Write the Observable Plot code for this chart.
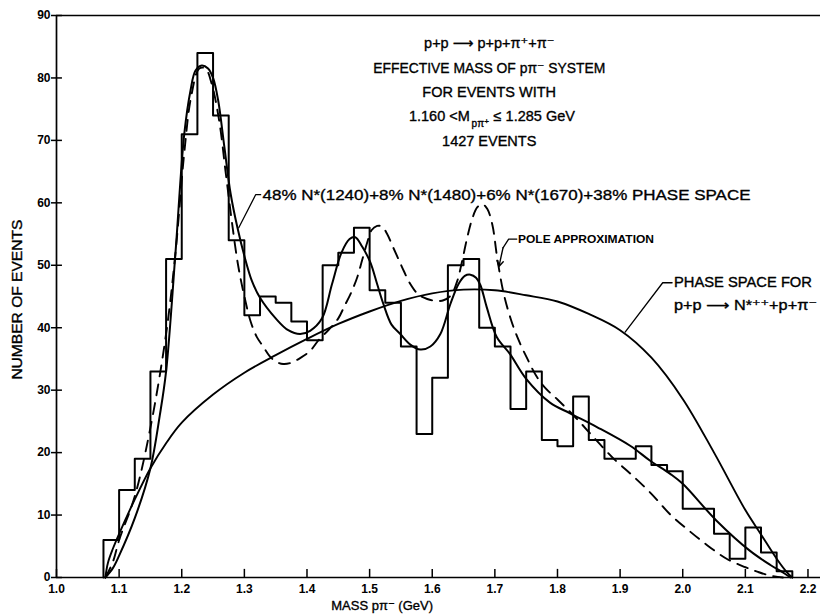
<!DOCTYPE html>
<html><head><meta charset="utf-8">
<script src="https://cdn.jsdelivr.net/npm/d3@7"></script>
<script src="https://cdn.jsdelivr.net/npm/@observablehq/plot@0.6"></script>
<style>
body{margin:0;background:#fff;}
#chart{width:828px;height:615px;}
</style></head><body><div id="chart"></div>
<script>
// ---- histogram (bin edges in GeV, counts per 25 MeV bin) ----
const binEdges = [1.075,1.1,1.125,1.15,1.175,1.2,1.225,1.25,1.275,1.3,1.325,1.35,1.375,1.4,1.425,1.45,1.475,1.5,1.525,1.55,1.575,1.6,1.625,1.65,1.675,1.7,1.725,1.75,1.775,1.8,1.825,1.85,1.875,1.9,1.925,1.95,1.975,2.0,2.025,2.05,2.075,2.1,2.125,2.15,2.175];
const binCounts = [6,14,19,33,51,71,84,74,54,42,45,44,41,38,50,52,56,46,44,37,23,32,50,51,40,37,27,33,22,21,29,22,19,19,21,18,17,11,11,7,3,8,4,1];

// ---- fit: 48% N*(1240)+8% N*(1480)+6% N*(1670)+38% phase space (solid) ----
const fitMass = [1.078,1.09,1.1,1.125,1.15,1.165,1.175,1.19,1.204,1.214,1.222,1.232,1.242,1.25,1.258,1.268,1.278,1.289,1.3,1.312,1.325,1.35,1.37,1.389,1.405,1.424,1.44,1.455,1.468,1.477,1.488,1.501,1.512,1.522,1.535,1.549,1.565,1.581,1.597,1.613,1.629,1.642,1.652,1.661,1.67,1.677,1.687,1.703,1.724,1.75,1.788,1.82,1.863,1.916,1.948,1.98,2.0,2.054,2.107,2.14,2.16,2.172];
const fitCount = [0,1.5,3.5,9.5,17.5,26,33,52,71,78,81.2,82,81.5,80,76.5,69,61.5,56,51.5,47.5,44.8,41.5,39.6,39,39.5,41.5,47,52,54.2,54.5,53,50.5,47,43.8,40.5,39,37.3,36.5,37,39,43.8,47,48.3,48.5,48,46.8,43.3,38.5,35.8,31.8,28,26.3,24.1,21.1,18.7,16.6,15,9.1,4.3,2,0.8,0];

// ---- pole approximation (dashed) ----
const poleMass = [1.078,1.09,1.1,1.125,1.15,1.175,1.19,1.204,1.215,1.228,1.238,1.248,1.26,1.27,1.28,1.29,1.3,1.31,1.32,1.33,1.34,1.35,1.362,1.375,1.39,1.405,1.42,1.435,1.45,1.46,1.47,1.48,1.488,1.496,1.503,1.512,1.52,1.528,1.537,1.546,1.555,1.565,1.578,1.592,1.605,1.618,1.63,1.64,1.648,1.656,1.664,1.672,1.68,1.688,1.696,1.704,1.714,1.726,1.738,1.752,1.766,1.78,1.8,1.83,1.86,1.89,1.92,1.95,1.98,2.01,2.04,2.07,2.1,2.12,2.14,2.16];
const poleCount = [0,2.5,6,13,24,39,52,68,77,81.5,81.5,79,73,65,57,50,45,41,38.5,37,35.5,34.6,34.2,34.4,35.2,36.3,38.2,39.7,41.5,43.5,45.5,48,50.8,53.6,55.6,56.3,56.2,55,53,51,49,47,45.3,44.6,44.3,44.4,45.2,47.5,50.8,54.5,57.5,59.3,59.8,59,56.5,51,45.5,41.2,38,35,32.3,30.4,28.5,25.5,22.2,19,16.3,13.4,10.1,7.5,5.1,3,1.65,0.9,0.3,0];

// ---- phase space for p+p -> N*++ + p + pi- ----
const psMass = [1.078,1.082,1.09,1.1,1.125,1.15,1.175,1.2,1.25,1.3,1.35,1.4,1.45,1.5,1.55,1.6,1.65,1.7,1.75,1.8,1.85,1.9,1.95,2.0,2.05,2.1,2.125,2.15,2.165,2.175];
const psCount = [0,2.3,4.6,7,12.5,17.5,21.5,24.8,29.3,32.8,35.6,38.2,40.6,42.6,44.3,45.5,46.1,46,45.2,44.2,42.2,39.6,35.2,28.6,20,10.8,6.9,3,1,0];

// ---- axes ----
const xTicks = [1.0,1.1,1.2,1.3,1.4,1.5,1.6,1.7,1.8,1.9,2.0,2.1,2.2];
const yTicks = [0,10,20,30,40,50,60,70,80,90];

const titleLines = ["p+p \u27f6 p+p+\u03c0\u207a+\u03c0\u207b", "EFFECTIVE MASS OF p\u03c0\u207b SYSTEM", "FOR EVENTS WITH", "", "1427 EVENTS"];
const fitLabel = "48% N*(1240)+8% N*(1480)+6% N*(1670)+38% PHASE SPACE";
const poleLabel = "POLE APPROXIMATION";
const psLabel = ["PHASE SPACE FOR", "p+p \u27f6 N*\u207a\u207a+p+\u03c0\u207b"];
const xLabel = "MASS p\u03c0\u207b (GeV)";
const yLabel = "NUMBER OF EVENTS";

// ---- build tables ----
const hist = [{x: binEdges[0], y: 0}]
  .concat(binCounts.map((c, i) => ({x: binEdges[i], y: c})))
  .concat([{x: binEdges[binEdges.length - 1], y: 0}]);
const fit = fitMass.map((m, i) => ({x: m, y: fitCount[i]}));
const pole = poleMass.map((m, i) => ({x: m, y: poleCount[i]}));
const ps = psMass.map((m, i) => ({x: m, y: psCount[i]}));

const FONT = "'Liberation Sans', Arial, Helvetica, 'DejaVu Sans', sans-serif";
const X0 = 1.0;
const ink = {fill: "#000", stroke: "#000", strokeWidth: 0.35};

const titleY = [85.5, 81.5, 77.7, 73.8, 69.8];
const titleData = titleLines.map((t, i) => ({x: 1.691, y: titleY[i], t})).filter(d => d.t);

const plot = Plot.plot({
  width: 828,
  height: 615,
  marginLeft: 56,
  marginRight: 8,
  marginTop: 15,
  marginBottom: 38,
  style: {fontFamily: FONT, fontSize: "12px", fontWeight: "bold", color: "#000", background: "#fff"},
  x: {domain: [1.0, 2.22], ticks: xTicks, tickSize: 0, tickPadding: 7, tickFormat: d => d.toFixed(1), label: null},
  y: {domain: [0, 90], ticks: yTicks, tickSize: 0, tickPadding: 6, label: null},
  marks: [
    // frame
    Plot.ruleY([0, 90], {stroke: "#000", strokeWidth: 1.7}),
    Plot.ruleX([X0], {y1: 0, y2: 90, stroke: "#000", strokeWidth: 1.7}),
    // tick marks
    Plot.ruleY(yTicks, {y: d => d, x1: X0 - 0.008, x2: X0 + 0.0095, stroke: "#000", strokeWidth: 1.5}),
    Plot.ruleX(xTicks, {x: d => d, y1: 0, y2: 1.3, stroke: "#000", strokeWidth: 1.5}),
    // curves
    Plot.line(ps, {x: "x", y: "y", curve: "catmull-rom", stroke: "#000", strokeWidth: 1.9}),
    Plot.line(pole, {x: "x", y: "y", curve: "catmull-rom", stroke: "#000", strokeWidth: 1.9, strokeDasharray: "11,8"}),
    Plot.line(fit, {x: "x", y: "y", curve: "catmull-rom", stroke: "#000", strokeWidth: 2}),
    // histogram
    Plot.line(hist, {x: "x", y: "y", curve: "step-after", stroke: "#000", strokeWidth: 2}),
    // leaders
    Plot.line([{x: 1.291, y: 56}, {x: 1.318, y: 61.3}, {x: 1.326, y: 61.3}], {x: "x", y: "y", stroke: "#000", strokeWidth: 1.3}),
    Plot.line([{x: 1.735, y: 54.2}, {x: 1.722, y: 54.2}, {x: 1.713, y: 52.8}], {x: "x", y: "y", stroke: "#000", strokeWidth: 1.3}),
    Plot.arrow([{x1: 1.713, y1: 52.8, x2: 1.7065, y2: 49.8}], {x1: "x1", y1: "y1", x2: "x2", y2: "y2", stroke: "#000", strokeWidth: 1.4, headLength: 7}),
    Plot.line([{x: 1.983, y: 47.2}, {x: 1.968, y: 47.2}, {x: 1.908, y: 39.3}], {x: "x", y: "y", stroke: "#000", strokeWidth: 1.3}),
    // title block
    Plot.text(titleData, {x: "x", y: "y", text: "t", fontSize: 14.5, fontWeight: "normal", textAnchor: "middle", ...ink}),
    Plot.text([{x: 1.66, y: 73.8, t: "1.160 <M"}], {x: "x", y: "y", text: "t", fontSize: 14.5, fontWeight: "normal", textAnchor: "end", ...ink}),
    Plot.text([{x: 1.677, y: 73.8, t: "p\u03c0\u207a"}], {x: "x", y: "y", text: "t", fontSize: 10, fontWeight: "normal", textAnchor: "middle", dy: 7, ...ink}),
    Plot.text([{x: 1.698, y: 73.8, t: "\u2264 1.285 GeV"}], {x: "x", y: "y", text: "t", fontSize: 14.5, fontWeight: "normal", textAnchor: "start", ...ink}),
    // curve labels
    Plot.text([{x: 1.329, y: 61.3, t: fitLabel}], {x: "x", y: "y", text: "t", fontSize: 15, fontWeight: "normal", textAnchor: "start", ...ink}),
    Plot.text([{x: 1.737, y: 54.2, t: poleLabel}], {x: "x", y: "y", text: "t", fontSize: 11.5, fontWeight: "bold", textAnchor: "start"}),
    Plot.text([{x: 1.986, y: 47.2, t: psLabel[0]}, {x: 1.986, y: 43.6, t: psLabel[1]}], {x: "x", y: "y", text: "t", fontSize: 14, fontWeight: "normal", textAnchor: "start", ...ink}),
    // axis titles
    Plot.text([{x: 1.52, y: 0, t: xLabel}], {x: "x", y: "y", text: "t", dy: 28, fontSize: 13, fontWeight: "normal", ...ink}),
    Plot.text([{x: X0, y: 44.5, t: yLabel}], {x: "x", y: "y", text: "t", dx: -39, rotate: -90, fontSize: 14, fontWeight: "normal", ...ink})
  ]
});

// stretch a few labels to the lengths of the hand lettering
const lengths = new Map([[fitLabel, 488], [poleLabel, 136], [psLabel[0], 138], [psLabel[1], 143], [yLabel, 160], [titleLines[1], 232]]);
d3.select(plot).selectAll("text").each(function () {
  const L = lengths.get(this.textContent);
  if (L) d3.select(this).attr("textLength", L).attr("lengthAdjust", "spacingAndGlyphs");
});
document.getElementById("chart").append(plot);
</script>
</body></html>
